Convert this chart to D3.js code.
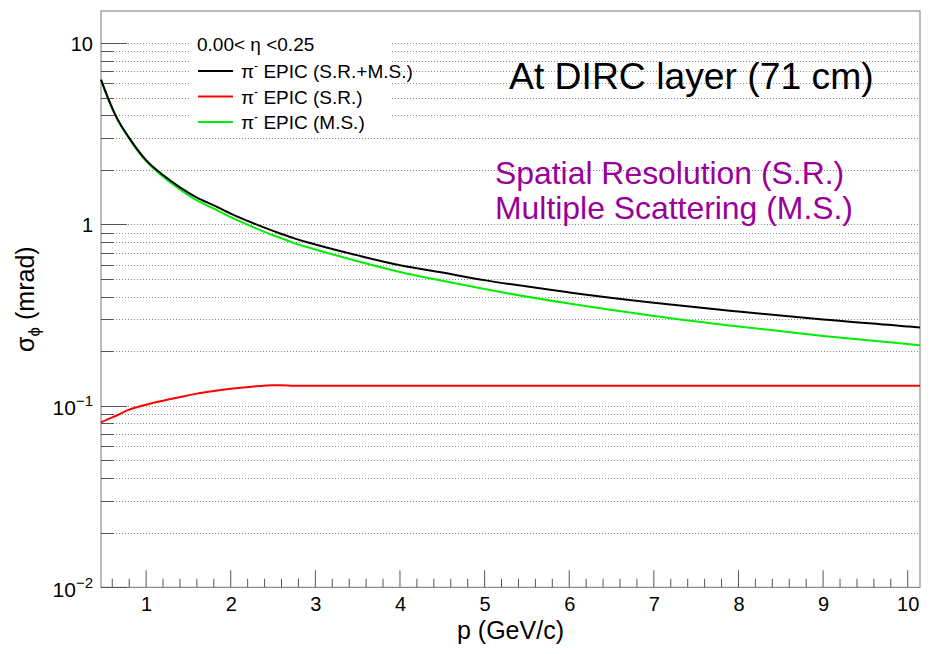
<!DOCTYPE html>
<html>
<head>
<meta charset="utf-8">
<script src="https://cdn.jsdelivr.net/npm/d3@7"></script>
<style>
  body { margin: 0; background: #fff; }
  svg { display: block; }
  text { font-family: "Liberation Sans", Arial, Helvetica, sans-serif; }
</style>
</head>
<body>
<svg id="chart" width="930" height="654"></svg>
<script>
// Momentum grid (GeV/c) shared by all three resolution curves
const momentum = [0.467, 0.55, 0.65, 0.8, 1.0, 1.2, 1.4, 1.6, 1.8, 2.0, 2.25, 2.5, 2.6, 2.75,
                  3.0, 3.5, 4.0, 4.5, 5.0, 6.0, 7.0, 8.0, 9.0, 10.0, 10.145];
// sigma_phi (mrad): spatial resolution + multiple scattering
const sigmaTotal = [6.28, 4.97, 3.90, 3.00, 2.26, 1.87, 1.60, 1.405, 1.274, 1.147, 1.022, 0.921, 0.886, 0.838,
                    0.775, 0.675, 0.596, 0.543, 0.493, 0.422, 0.370, 0.331, 0.299, 0.274, 0.270];
// sigma_phi (mrad): spatial resolution only
const sigmaSR = [0.081, 0.0845, 0.0885, 0.0953, 0.1015, 0.1068, 0.1118, 0.1168, 0.1208, 0.1243, 0.1276, 0.1299, 0.1300, 0.1290,
                 0.1290, 0.1290, 0.1290, 0.1290, 0.1290, 0.1290, 0.1290, 0.1290, 0.1290, 0.1290, 0.1290];
// sigma_phi (mrad): multiple scattering only
const sigmaMS = [6.26, 4.95, 3.87, 2.97, 2.23, 1.83, 1.557, 1.355, 1.222, 1.097, 0.973, 0.871, 0.838, 0.789,
                 0.728, 0.627, 0.547, 0.489, 0.440, 0.366, 0.313, 0.274, 0.243, 0.219, 0.216];

const seriesNames = ["EPIC (S.R.+M.S.)", "EPIC (S.R.)", "EPIC (M.S.)"];
const seriesColors = ["#000000", "#ff0000", "#00ee00"];
const xMajorTicks = [1, 2, 3, 4, 5, 6, 7, 8, 9, 10];
const yMajorTicks = [0.01, 0.1, 1, 10];
const yTickLabels = [["10", "\u22122"], ["10", "\u22121"], ["1", null], ["10", null]];

const svg = d3.select("#chart");
const plot = { left: 101, right: 920, top: 11, bottom: 587.3 };

const x = d3.scaleLinear().domain([0.467, 10.145]).range([plot.left, plot.right]);
const y = d3.scaleLog().domain([0.01, 15]).range([plot.bottom, plot.top]);

// minor ticks
const xMinorTicks = d3.range(6, 102, 2).map(v => v / 10).filter(v => v >= 0.467 && v <= 10.145 && Math.abs(v - Math.round(v)) > 1e-6);
const yMinorTicks = [];
[-2, -1, 0, 1].forEach(e => { for (let k = 2; k <= 9; k++) { const v = k * Math.pow(10, e); if (v <= 15) yMinorTicks.push(v); } });

// horizontal dotted grid at every y tick
const grid = svg.append("g");
grid.selectAll("line").data(yMajorTicks.concat(yMinorTicks)).join("line")
  .attr("x1", plot.left).attr("x2", plot.right)
  .attr("y1", d => Math.round(y(d)) + 0.5).attr("y2", d => Math.round(y(d)) + 0.5)
  .attr("stroke", "#8a8a8a").attr("stroke-width", 1).attr("stroke-dasharray", "1 2");

// legend background
svg.append("rect").attr("x", 190).attr("y", 33).attr("width", 202).attr("height", 99).attr("fill", "#fff");

// frame
svg.append("rect").attr("x", plot.left).attr("y", plot.top)
  .attr("width", plot.right - plot.left).attr("height", plot.bottom - plot.top)
  .attr("fill", "none").attr("stroke", "#7a7a7a").attr("stroke-width", 1);

// x axis
const xAxisMajor = d3.axisBottom(x).tickValues(xMajorTicks).tickSize(0).tickPadding(0).tickFormat(d3.format("d"));
const gx = svg.append("g").attr("transform", `translate(0,${plot.bottom})`).call(xAxisMajor);
gx.select(".domain").remove();
gx.selectAll(".tick text").attr("y", 24).attr("dy", null).attr("font-size", 20).attr("fill", "#000")
  .attr("font-family", '"Liberation Sans", Arial, sans-serif');
const xTickG = svg.append("g").attr("stroke", "#555").attr("stroke-width", 1);
xTickG.selectAll("line.maj").data(xMajorTicks).join("line").attr("class", "maj")
  .attr("x1", d => x(d)).attr("x2", d => x(d)).attr("y1", plot.bottom).attr("y2", plot.bottom - 17);
xTickG.selectAll("line.min").data(xMinorTicks).join("line").attr("class", "min")
  .attr("x1", d => x(d)).attr("x2", d => x(d)).attr("y1", plot.bottom).attr("y2", plot.bottom - 8.5);

// y axis
const yAxisMajor = d3.axisLeft(y).tickValues(yMajorTicks).tickSize(0).tickPadding(0).tickFormat("");
const gy = svg.append("g").attr("transform", `translate(${plot.left},0)`).call(yAxisMajor);
gy.select(".domain").remove();
gy.selectAll(".tick text").each(function (d, i) {
  const t = d3.select(this).attr("x", -8).attr("dy", null).attr("text-anchor", "end").attr("fill", "#000")
    .attr("font-family", '"Liberation Sans", Arial, sans-serif');
  const [base, exp] = yTickLabels[i];
  if (exp) {
    t.attr("y", 9).attr("font-size", 21);
    t.append("tspan").text(base);
    t.append("tspan").attr("font-size", 15).attr("dy", -9).text(exp);
  } else {
    t.attr("y", 7.5).attr("font-size", 20).text(base);
  }
});
const yTickG = svg.append("g").attr("stroke", "#555").attr("stroke-width", 1);
yTickG.selectAll("line.maj").data(yMajorTicks).join("line").attr("class", "maj")
  .attr("x1", plot.left).attr("x2", plot.left + 26)
  .attr("y1", d => Math.round(y(d)) + 0.5).attr("y2", d => Math.round(y(d)) + 0.5);
yTickG.selectAll("line.min").data(yMinorTicks).join("line").attr("class", "min")
  .attr("x1", plot.left).attr("x2", plot.left + 13)
  .attr("y1", d => Math.round(y(d)) + 0.5).attr("y2", d => Math.round(y(d)) + 0.5);

// axis titles
svg.append("text").attr("x", (plot.left + plot.right) / 2).attr("y", 639)
  .attr("text-anchor", "middle").attr("font-size", 25).text("p (GeV/c)");
const yt = svg.append("text").attr("transform", `translate(34,${(plot.top + plot.bottom) / 2}) rotate(-90)`)
  .attr("text-anchor", "middle").attr("font-size", 25);
yt.append("tspan").text("\u03c3");
yt.append("tspan").attr("font-size", 17).attr("dy", 6).text("\u03d5");
yt.append("tspan").attr("dy", -6).text(" (mrad)");

// curves
const seriesValues = [sigmaTotal, sigmaSR, sigmaMS];
const line = d3.line().x(d => x(d[0])).y(d => y(d[1])).curve(d3.curveMonotoneX);
const curves = svg.append("g").attr("fill", "none").attr("stroke-width", 2);
[2, 1, 0].forEach(i => {
  curves.append("path")
    .attr("d", line(momentum.map((p, j) => [p, seriesValues[i][j]])))
    .attr("stroke", seriesColors[i]);
});

// legend
const legend = svg.append("g");
legend.append("text").attr("x", 197).attr("y", 51).attr("font-size", 19).text("0.00< \u03b7 <0.25");
seriesNames.forEach((name, i) => {
  const cy = 71 + i * 25.5;
  legend.append("line").attr("x1", 198).attr("x2", 233).attr("y1", cy).attr("y2", cy)
    .attr("stroke", seriesColors[i]).attr("stroke-width", 2);
  const t = legend.append("text").attr("x", 241).attr("y", cy + 7).attr("font-size", 19);
  t.append("tspan").text("\u03c0");
  t.append("tspan").attr("font-size", 12).attr("dy", -8).text("-");
  t.append("tspan").attr("dy", 8).text(" " + name);
});

// annotations
svg.append("text").attr("x", 509).attr("y", 89).attr("font-size", 37.3).text("At DIRC layer (71 cm)");
svg.append("text").attr("x", 495).attr("y", 184).attr("font-size", 31.9).attr("fill", "#990099").text("Spatial Resolution (S.R.)");
svg.append("text").attr("x", 495).attr("y", 219).attr("font-size", 31.9).attr("fill", "#990099").text("Multiple Scattering (M.S.)");
</script>
</body>
</html>
